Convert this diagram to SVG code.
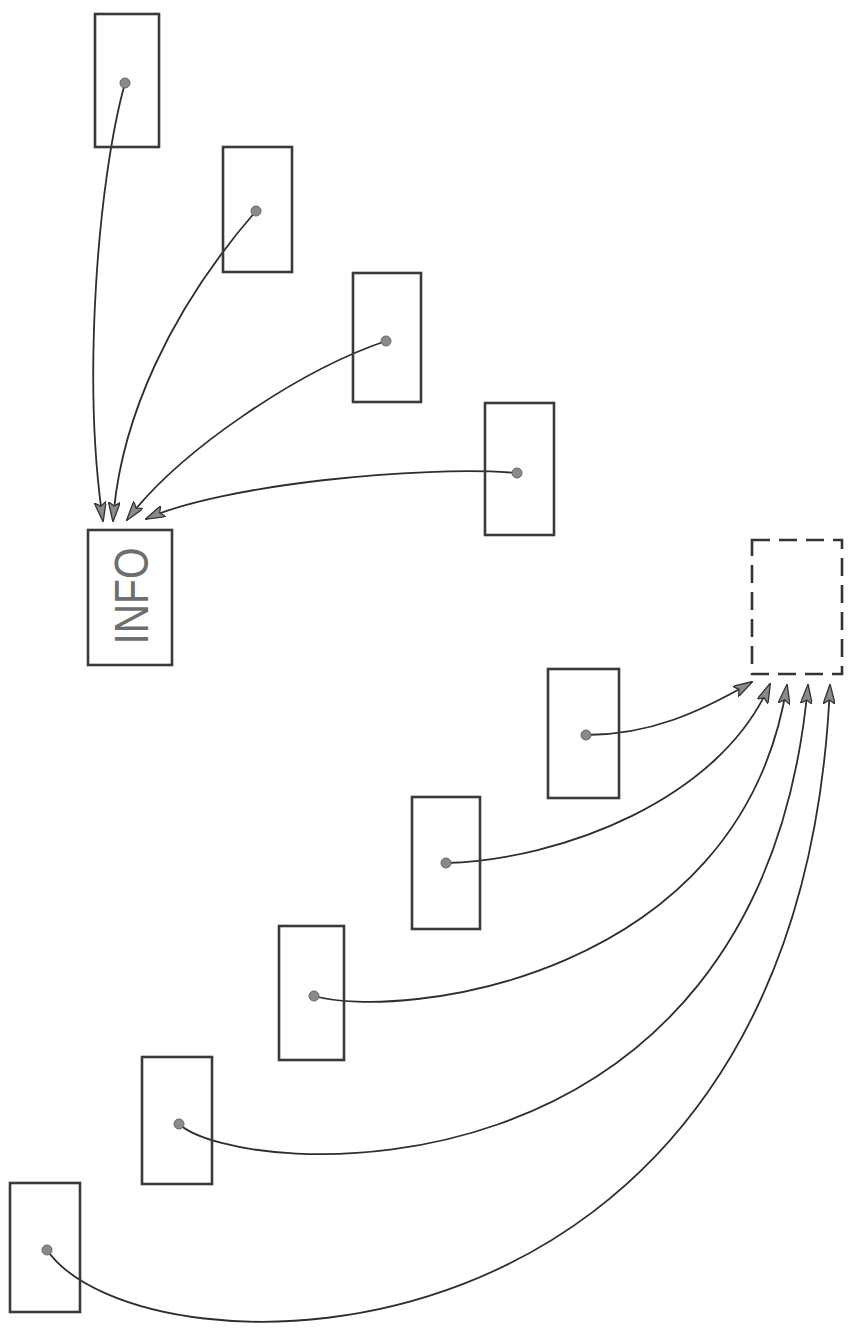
<svg xmlns="http://www.w3.org/2000/svg" width="849" height="1332" viewBox="0 0 849 1332">
<defs>
<style>
.box{fill:none;stroke:#3a3a3a;stroke-width:2.6}
.dash{fill:none;stroke:#333;stroke-width:2.6;stroke-dasharray:18 9}
.dot{fill:#8a8a8a;stroke:#666;stroke-width:1}
.wire{fill:none;stroke:#2e2e2e;stroke-width:1.8;marker-end:url(#ah)}
.lbl{font-family:"Liberation Sans",Arial,sans-serif;font-size:48px;fill:#6e6e6e}
</style>
<marker id="ah" viewBox="0 0 20 12" refX="19" refY="6" markerWidth="20" markerHeight="12" markerUnits="userSpaceOnUse" orient="auto">
<path d="M0,0 L20,6 L0,12 L4,6 Z" fill="#8a8a8a" stroke="#333" stroke-width="1.3"/>
</marker>
</defs>
<rect width="849" height="1332" fill="#fff"/>
<g id="connectors">
<path class="wire" d="M125,83 C98,180 82,380 103,521"/>
<path class="wire" d="M256,211 C170,310 120,420 113,521"/>
<path class="wire" d="M386,341 C300,370 180,450 127,520"/>
<path class="wire" d="M517,473 C420,465 220,485 146,519"/>
<path class="wire" d="M586,735 C650,735 700,712 752,682"/>
<path class="wire" d="M446,863 C560,860 720,800 770,684"/>
<path class="wire" d="M314,996 C400,1020 740,980 787,685"/>
<path class="wire" d="M179,1124 C240,1180 760,1215 808,685"/>
<path class="wire" d="M47,1250 C140,1385 800,1395 830,685"/>
</g>
<g id="n1"><rect class="box" x="95" y="14" width="64" height="133"/><circle class="dot" cx="125" cy="83" r="5"/></g>
<g id="n2"><rect class="box" x="223" y="147" width="69" height="125"/><circle class="dot" cx="256" cy="211" r="5"/></g>
<g id="n3"><rect class="box" x="353" y="273" width="68" height="129"/><circle class="dot" cx="386" cy="341" r="5"/></g>
<g id="n4"><rect class="box" x="485" y="403" width="69" height="132"/><circle class="dot" cx="517" cy="473" r="5"/></g>
<g id="info"><rect class="box" x="88" y="530" width="84" height="135"/><text class="lbl" transform="translate(148,596) rotate(-90)" text-anchor="middle" textLength="97" lengthAdjust="spacingAndGlyphs">INFO</text></g>
<g id="target"><rect class="dash" x="752" y="540" width="90" height="134"/></g>
<g id="a1"><rect class="box" x="548" y="669" width="71" height="129"/><circle class="dot" cx="586" cy="735" r="5"/></g>
<g id="a2"><rect class="box" x="412" y="797" width="68" height="132"/><circle class="dot" cx="446" cy="863" r="5"/></g>
<g id="a3"><rect class="box" x="279" y="926" width="65" height="134"/><circle class="dot" cx="314" cy="996" r="5"/></g>
<g id="a4"><rect class="box" x="142" y="1057" width="70" height="127"/><circle class="dot" cx="179" cy="1124" r="5"/></g>
<g id="a5"><rect class="box" x="10" y="1183" width="70" height="129"/><circle class="dot" cx="47" cy="1250" r="5"/></g>
</svg>
